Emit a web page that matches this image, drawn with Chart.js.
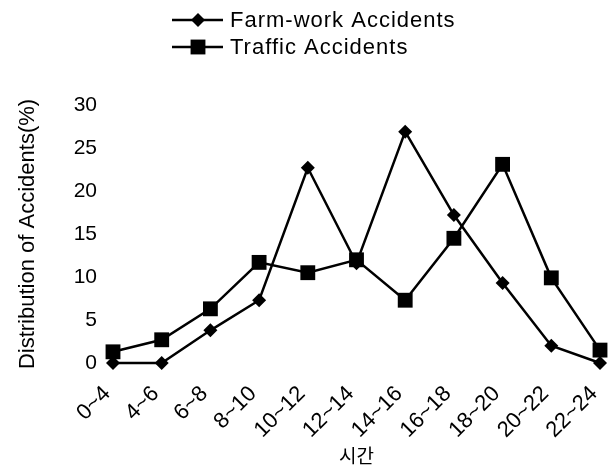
<!DOCTYPE html>
<html>
<head>
<meta charset="utf-8">
<script src="https://cdn.jsdelivr.net/npm/chart.js@4.4.0/dist/chart.umd.min.js"></script>
<style>
  html, body { margin: 0; padding: 0; background: #fff; }
</style>
</head>
<body>
<canvas id="chart" width="616" height="467"></canvas>
<script>
// time bands (hours)
const timeLabels = ["0~4", "4~6", "6~8", "8~10", "10~12", "12~14", "14~16", "16~18", "18~20", "20~22", "22~24"];
// share of accidents (%) per band
const farmWork = [0, 0, 3.8, 7.3, 22.7, 11.6, 26.9, 17.2, 9.3, 2.0, 0];
const traffic = [1.3, 2.7, 6.3, 11.7, 10.5, 12.0, 7.3, 14.5, 23.1, 9.9, 1.5];
const seriesNames = ["Farm-work Accidents", "Traffic Accidents"];
const yMin = 0;
const yMax = 30;
const yStep = 5;

const textFont = '"Liberation Sans", Arial, sans-serif';

// line + marker legend, two rows, left aligned
const lineLegend = {
  id: "lineLegend",
  afterDraw(chart) {
    const ctx = chart.ctx;
    chart.data.datasets.forEach((ds, i) => {
      const y = 20 + i * 27;
      ctx.save();
      ctx.strokeStyle = "#000";
      ctx.fillStyle = "#000";
      ctx.lineWidth = 2.5;
      ctx.beginPath();
      ctx.moveTo(172, y);
      ctx.lineTo(223, y);
      ctx.stroke();

      const r = ds.pointRadius;
      ctx.beginPath();
      if (ds.pointStyle === "rectRot") {
        ctx.moveTo(198, y - r);
        ctx.lineTo(198 + r, y);
        ctx.lineTo(198, y + r);
        ctx.lineTo(198 - r, y);
        ctx.closePath();
      } else {
        const s = r * Math.SQRT1_2;
        ctx.rect(198 - s, y - s, 2 * s, 2 * s);
      }
      ctx.fill();

      ctx.font = "22px " + textFont;
      ctx.textBaseline = "middle";
      ctx.textAlign = "left";
      if ("letterSpacing" in ctx) ctx.letterSpacing = "1px";
      ctx.fillText(ds.label, 230, y + 1);
      ctx.restore();
    });
  },
};

const ctx = document.getElementById("chart").getContext("2d");
new Chart(ctx, {
  type: "line",
  data: {
    labels: timeLabels,
    datasets: [
      {
        label: seriesNames[0],
        data: farmWork,
        borderColor: "#000",
        backgroundColor: "#000",
        borderWidth: 2.5,
        pointStyle: "rectRot",
        pointRadius: 7,
        pointBorderWidth: 0,
        tension: 0,
        clip: false,
      },
      {
        label: seriesNames[1],
        data: traffic,
        borderColor: "#000",
        backgroundColor: "#000",
        borderWidth: 2.5,
        pointStyle: "rect",
        pointRadius: 10.5,
        pointBorderWidth: 0,
        tension: 0,
        clip: false,
      },
    ],
  },
  options: {
    responsive: false,
    animation: false,
    devicePixelRatio: 1,
    layout: { padding: { top: 105, right: 16, bottom: 0, left: 0 } },
    plugins: {
      legend: { display: false },
      tooltip: { enabled: false },
    },
    scales: {
      x: {
        offset: false,
        grid: { display: false, drawTicks: false },
        border: { display: false },
        ticks: {
          color: "#000",
          font: { family: textFont, size: 22 },
          maxRotation: 45,
          minRotation: 45,
          autoSkip: false,
          padding: 18,
          labelOffset: -6,
        },
        title: {
          display: true,
          text: "시간",
          color: "#000",
          font: { family: '"Noto Sans CJK KR", sans-serif', size: 19 },
          padding: { top: 0, bottom: 0 },
        },
        afterFit(scale) {
          scale.height = 104;
          scale.paddingLeft = 0;
          scale.paddingRight = 0;
        },
      },
      y: {
        min: yMin,
        max: yMax,
        grid: { display: false, drawTicks: false },
        border: { display: false },
        ticks: {
          stepSize: yStep,
          color: "#000",
          font: { family: textFont, size: 21 },
          padding: 16,
        },
        title: {
          display: true,
          text: "Distribution of Accidents(%)",
          color: "#000",
          font: { family: textFont, size: 22 },
          padding: { top: 15, bottom: 0 },
        },
        afterFit(scale) {
          scale.width = 113;
        },
      },
    },
  },
  plugins: [lineLegend],
});
</script>
</body>
</html>
